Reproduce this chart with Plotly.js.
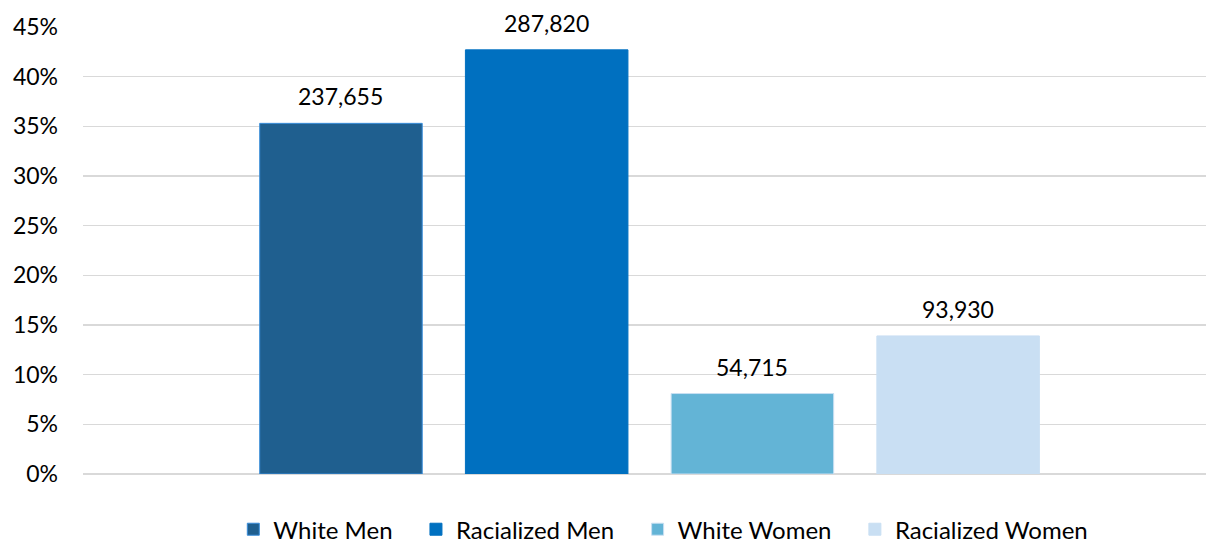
<!DOCTYPE html>
<html>
<head>
<meta charset="utf-8">
<script src="https://cdn.plot.ly/plotly-3.0.1.min.js"></script>
<style>html,body{margin:0;padding:0;background:#fff;}#chart{width:1207px;height:546px;}</style>
</head>
<body>
<div id="chart"></div>
<script>
// Data
var categories = ["White Men", "Racialized Men", "White Women", "Racialized Women"];
var shares = [35.3, 42.7, 8.1, 13.9];          // percent of total
var counts = [237655, 287820, 54715, 93930];    // labels above bars
var yTickVals = [0, 5, 10, 15, 20, 25, 30, 35, 40, 45];
var yTickText = ["0%", "5%", "10%", "15%", "20%", "25%", "30%", "35%", "40%", "45%"];

var fillColors = ["#1F5F8F", "#0070C0", "#63B4D6", "#C9DFF3"];
var lineColors = ["#3A8EDB", "#0070C0", "#C8DFF2", "#C9DFF3"];
var FONT = "Lato, 'Noto Sans', sans-serif";
var PAD = "\u00a0\u00a0\u00a0";

var traces = categories.map(function (c, i) {
  return {
    type: "bar",
    name: c + PAD,
    x: [c],
    y: [shares[i]],
    width: 0.79,
    marker: { color: fillColors[i], line: { color: lineColors[i], width: 1 } },
    hoverinfo: "skip"
  };
});

var annotations = categories.map(function (c, i) {
  return {
    x: c, y: shares[i], xref: "x", yref: "y",
    text: counts[i].toLocaleString("en-US"),
    showarrow: false, yanchor: "middle", yshift: 27,
    font: { family: FONT, size: 23, color: "#000" }
  };
});

var layout = {
  width: 1207, height: 546,
  margin: { l: 83, r: 1, t: 27, b: 72 },
  paper_bgcolor: "#fff", plot_bgcolor: "#fff",
  barmode: "overlay",
  showlegend: true,
  legend: {
    orientation: "h", x: 0.557, xanchor: "center", xref: "container",
    y: 0.03, yanchor: "middle", yref: "container",
    font: { family: FONT, size: 24, color: "#000" },
    itemclick: false, itemdoubleclick: false
  },
  xaxis: {
    type: "category", categoryorder: "array", categoryarray: categories,
    range: [-1.254, 4.205], showticklabels: false, showgrid: false, zeroline: false,
    showline: false, ticks: ""
  },
  yaxis: {
    range: [0, 45], tickvals: yTickVals, ticktext: yTickText,
    showgrid: true, gridcolor: "#D9D9D9", gridwidth: 1.5,
    zeroline: true, zerolinecolor: "#D9D9D9", zerolinewidth: 1.5,
    showline: false, ticks: "", ticklabelstandoff: 24,
    tickfont: { family: FONT, size: 23, color: "#000" }
  },
  annotations: annotations
};

Plotly.newPlot("chart", traces, layout, { staticPlot: true, displayModeBar: false });
</script>
</body>
</html>
